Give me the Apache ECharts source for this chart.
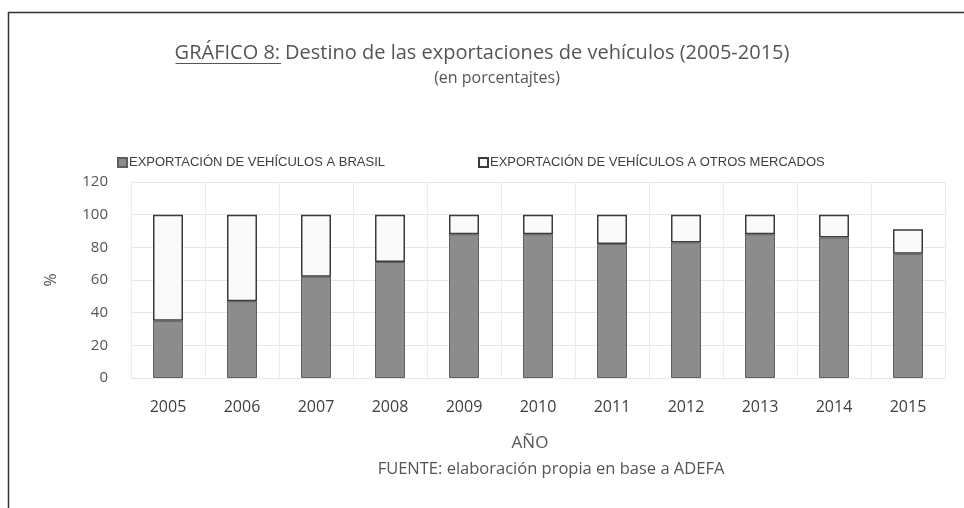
<!DOCTYPE html>
<html>
<head>
<meta charset="utf-8">
<script src="https://cdn.jsdelivr.net/npm/echarts@6/dist/echarts.min.js"></script>
<style>
  html, body { margin: 0; padding: 0; background: #ffffff; }
  #chart { width: 964px; height: 508px; }
</style>
</head>
<body>
<div id="chart"></div>
<script>
// Years on the category axis
var years = ['2005', '2006', '2007', '2008', '2009', '2010', '2011', '2012', '2013', '2014', '2015'];
// Share of vehicle exports going to Brazil (%)
var brasil = [35, 47, 62, 71, 88, 88, 82, 83, 88, 86, 76];
// Share going to other markets (%)
var otros = [65, 53, 38, 29, 12, 12, 18, 17, 12, 14, 15];
// Value axis ticks
var yTicks = [0, 20, 40, 60, 80, 100, 120];

var serieBrasil = 'EXPORTACIÓN DE VEHÍCULOS A BRASIL';
var serieOtros = 'EXPORTACIÓN DE VEHÍCULOS A OTROS MERCADOS';

var textFont = '"Open Sans", "Liberation Sans", sans-serif';
var titleSize = 20;
var titleLead = 'GRÁFICO 8:';
var titleRest = 'Destino de las exportaciones de vehículos (2005-2015)';

var chart = echarts.init(document.getElementById('chart'), null, { renderer: 'canvas' });

// underline position for the chart number in the heading
var measure = document.createElement('canvas').getContext('2d');
measure.font = titleSize + 'px "Open Sans", "Liberation Sans", sans-serif';
var fullW = measure.measureText(titleLead + ' ' + titleRest).width;
var leadW = measure.measureText(titleLead).width;
var titleX0 = 972 / 2 - fullW / 2 - 3;

chart.setOption({
  backgroundColor: '#ffffff',
  animation: false,
  title: [
    {
      text: '{n|' + titleLead + '} {n|' + titleRest + '}',
      left: 'center',
      top: 38,
      padding: [5, 0, 5, 8],
      textStyle: {
        rich: {
          n: { fontFamily: textFont, fontSize: titleSize, fontWeight: 'normal', color: '#555555' }
        }
      }
    },
    {
      text: '(en porcentajtes)',
      left: 492,
      textAlign: 'center',
      top: 65,
      textStyle: { fontFamily: textFont, fontSize: 16, fontWeight: 'normal', color: '#555555' }
    },
    {
      text: 'FUENTE: elaboración propia en base a ADEFA',
      left: 546,
      textAlign: 'center',
      top: 456,
      textStyle: { fontFamily: textFont, fontSize: 16.5, fontWeight: 'normal', color: '#555555' }
    }
  ],
  legend: [
    {
      data: [serieBrasil],
      left: 112,
      top: 151,
      itemWidth: 9,
      itemHeight: 9,
      icon: 'rect',
      textStyle: { fontFamily: '"Liberation Sans", sans-serif', fontSize: 13, color: '#404040', padding: [0, 0, 0, -3] }
    },
    {
      data: [serieOtros],
      left: 473,
      top: 151,
      itemWidth: 9,
      itemHeight: 9,
      icon: 'rect',
      textStyle: { fontFamily: '"Liberation Sans", sans-serif', fontSize: 13, color: '#404040', padding: [0, 0, 0, -3] }
    }
  ],
  grid: { left: 131, right: 19, top: 182, bottom: 130, containLabel: false },
  xAxis: {
    type: 'category',
    data: years,
    name: 'AÑO',
    nameLocation: 'middle',
    nameGap: 57,
    nameTextStyle: { fontFamily: textFont, fontSize: 17, color: '#555555', padding: [0, 16, 0, 0] },
    axisLine: { show: false },
    axisTick: { show: false },
    axisLabel: { fontFamily: textFont, fontSize: 16, color: '#404040', margin: 21 },
    splitLine: { show: true, lineStyle: { color: '#ececec', width: 1 } }
  },
  yAxis: {
    type: 'value',
    min: yTicks[0],
    max: yTicks[yTicks.length - 1],
    interval: yTicks[1] - yTicks[0],
    name: '%',
    nameLocation: 'middle',
    nameGap: 72,
    nameRotate: 90,
    nameTextStyle: { fontFamily: textFont, fontSize: 16, color: '#555555' },
    axisLine: { show: false },
    axisTick: { show: false },
    axisLabel: { fontFamily: textFont, fontSize: 15, color: '#555555', margin: 23 },
    splitLine: { show: true, lineStyle: { color: '#e6e6e6', width: 1 } }
  },
  series: [
    {
      name: serieBrasil,
      type: 'bar',
      stack: 'total',
      barWidth: 30,
      data: brasil,
      itemStyle: { color: '#8c8c8c', borderColor: '#5e5e5e', borderWidth: 1 }
    },
    {
      name: serieOtros,
      type: 'bar',
      stack: 'total',
      barWidth: 30,
      data: otros,
      itemStyle: { color: '#fafafa', borderColor: '#3a3a3a', borderWidth: 1.5 }
    }
  ],
  graphic: [
    // frame lines along the top and left edges
    { type: 'line', shape: { x1: 8, y1: 12.5, x2: 964, y2: 12.5 }, style: { stroke: '#333333', lineWidth: 1.5 } },
    { type: 'line', shape: { x1: 8.5, y1: 12, x2: 8.5, y2: 508 }, style: { stroke: '#333333', lineWidth: 1.5 } },
    // underline under the chart number
    { type: 'line', shape: { x1: titleX0, y1: 63.5, x2: titleX0 + leadW, y2: 63.5 }, style: { stroke: '#555555', lineWidth: 1 } }
  ]
});
</script>
</body>
</html>
